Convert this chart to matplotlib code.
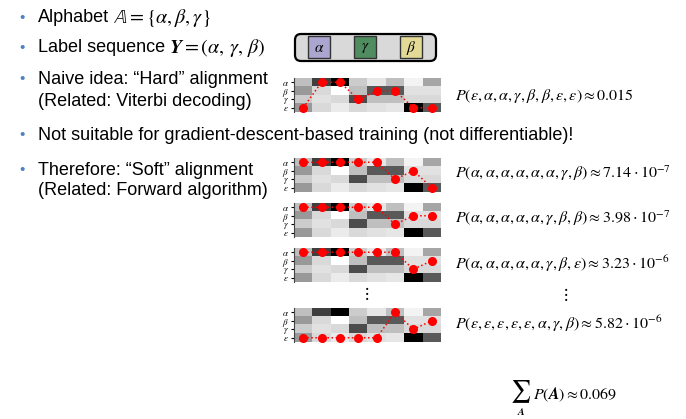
import matplotlib
matplotlib.use("Agg")
import matplotlib.pyplot as plt
from matplotlib.patches import FancyBboxPatch, Rectangle
import numpy as np

plt.rcParams['mathtext.fontset'] = 'stix'
plt.rcParams['font.family'] = ['Liberation Sans', 'DejaVu Sans']

W, H = 686, 419
DPI = 100

# ---------------- data ----------------
row_labels = [r'$\alpha$', r'$\beta$', r'$\gamma$', r'$\epsilon$']
# darkness (probability) of each cell: rows alpha, beta, gamma, epsilon ; 8 time steps
prob_alpha = [0.25, 0.75, 1.00, 0.20, 0.10, 0.25, 0.05, 0.35]
prob_beta = [0.40, 0.15, 0.00, 0.25, 0.65, 0.65, 0.12, 0.12]
prob_gamma = [0.20, 0.12, 0.15, 0.70, 0.25, 0.25, 0.15, 0.15]
prob_eps = [0.40, 0.15, 0.08, 0.15, 0.12, 0.10, 1.00, 0.65]

# alignment paths (row index per time step: 0=alpha,1=beta,2=gamma,3=epsilon)
path_hard = [3, 0, 0, 2, 1, 1, 3, 3]
path_soft1 = [0, 0, 0, 0, 0, 2, 1, 3]
path_soft2 = [0, 0, 0, 0, 0, 2, 1, 1]
path_soft3 = [0, 0, 0, 0, 0, 0, 2, 1]
path_soft4 = [3, 3, 3, 3, 3, 0, 2, 1]

label_hard = r'$P(\epsilon,\alpha,\alpha,\gamma,\beta,\beta,\epsilon,\epsilon)\approx 0.015$'
label_soft1 = r'$P(\alpha,\alpha,\alpha,\alpha,\alpha,\alpha,\gamma,\beta)\approx 7.14\cdot 10^{-7}$'
label_soft2 = r'$P(\alpha,\alpha,\alpha,\alpha,\alpha,\gamma,\beta,\beta)\approx 3.98\cdot 10^{-7}$'
label_soft3 = r'$P(\alpha,\alpha,\alpha,\alpha,\alpha,\gamma,\beta,\epsilon)\approx 3.23\cdot 10^{-6}$'
label_soft4 = r'$P(\epsilon,\epsilon,\epsilon,\epsilon,\epsilon,\alpha,\gamma,\beta)\approx 5.82\cdot 10^{-6}$'
label_sum = r'$P(\mathbfit{A})\approx 0.069$'

label_seq = [r'$\alpha$', r'$\gamma$', r'$\beta$']
label_colors = ['#aaa6cf', '#4f8c5f', '#e4da98']

matrix = np.array([prob_alpha, prob_beta, prob_gamma, prob_eps])

fig = plt.figure(figsize=(W / DPI, H / DPI), dpi=DPI)
fig.patch.set_facecolor('white')
renderer = fig.canvas.get_renderer()


def fx(x):
    return x / W


def fy(y):
    return 1 - y / H


def text_then_math(x, y, plain, math, fs_plain, fs_math, gap=4):
    t = fig.text(fx(x), fy(y), plain, fontsize=fs_plain, va='center')
    bb = t.get_window_extent(renderer=renderer)
    fig.text(bb.x1 / W + gap / W, fy(y), math, fontsize=fs_math, va='center')


# ---------------- bullets / text ----------------
bullet_color = '#4f81bd'
fs = 13
bullets = [18, 48, 79, 135, 170]
for y in bullets:
    fig.text(fx(22), fy(y), '•', color=bullet_color, fontsize=11, ha='center', va='center')

text_then_math(38, 18, 'Alphabet', r'$\mathbb{A}=\{\alpha,\beta,\gamma\}$', fs, 14.5)
text_then_math(38, 48, 'Label sequence', r'$\mathbfit{Y}=(\alpha,\,\gamma,\,\beta)$', fs, 14.5)
fig.text(fx(38), fy(79), 'Naive idea: \u201cHard\u201d alignment', fontsize=fs, va='center')
fig.text(fx(38), fy(101), '(Related: Viterbi decoding)', fontsize=fs, va='center')
fig.text(fx(38), fy(135), 'Not suitable for gradient-descent-based training (not differentiable)!',
         fontsize=fs, va='center')
fig.text(fx(38), fy(170), 'Therefore: \u201cSoft\u201d alignment', fontsize=fs, va='center')
fig.text(fx(38), fy(190), '(Related: Forward algorithm)', fontsize=fs, va='center')

# ---------------- label sequence box ----------------
box_ax = fig.add_axes([0, 0, 1, 1])
box_ax.set_xlim(0, W)
box_ax.set_ylim(H, 0)
box_ax.axis('off')
box_ax.add_patch(FancyBboxPatch((295, 34), 141, 27, boxstyle='round,pad=0,rounding_size=6',
                                facecolor='#d9d9d9', edgecolor='black', linewidth=1.6))
for i, (lab, col) in enumerate(zip(label_seq, label_colors)):
    x0 = 308 + i * 46
    box_ax.add_patch(Rectangle((x0, 36.5), 22, 22, facecolor=col, edgecolor='#333333', linewidth=1.0))
    box_ax.text(x0 + 11, 48, lab, fontsize=11, ha='center', va='center')


# ---------------- heatmaps ----------------
def heatmap(top, path, label, label_y):
    left, right, bottom = 294, 441, top + 34
    ax = fig.add_axes([fx(left), fy(bottom), fx(right - left), (bottom - top) / H])
    ax.imshow(matrix, cmap='gray_r', vmin=0, vmax=1, aspect='auto', interpolation='nearest')
    ax.plot(np.arange(len(path)), path, ':', color='red', linewidth=1.1)
    ax.plot(np.arange(len(path)), path, 'o', color='red', markersize=5.5, clip_on=False)
    ax.set_xticks([])
    ax.set_yticks(range(4))
    ax.set_yticklabels(row_labels, fontsize=6.5)
    ax.tick_params(axis='y', length=2.5, width=0.8, pad=1)
    for s in ax.spines.values():
        s.set_visible(False)
    ax.spines['left'].set_visible(True)
    ax.spines['left'].set_color('#444444')
    ax.set_xlim(-0.5, 7.5)
    ax.set_ylim(3.5, -0.5)
    fig.text(fx(455), fy(label_y), label, fontsize=11.5, va='center')
    return ax


heatmap(78, path_hard, label_hard, 96)
heatmap(158, path_soft1, label_soft1, 173)
heatmap(203, path_soft2, label_soft2, 218)
heatmap(248, path_soft3, label_soft3, 264)
heatmap(308, path_soft4, label_soft4, 324)

# vertical dots
box_ax.text(366, 293, r'$\vdots$', fontsize=12, ha='center', va='center')
box_ax.text(565, 294, r'$\vdots$', fontsize=12, ha='center', va='center')

# sum
box_ax.text(521, 392, r'$\sum$', fontsize=16, ha='center', va='center')
box_ax.text(521, 411, r'$\mathbfit{A}$', fontsize=7.5, ha='center', va='center')
box_ax.text(533, 395, label_sum, fontsize=11.5, ha='left', va='center')

fig.savefig('out.png', dpi=DPI)
